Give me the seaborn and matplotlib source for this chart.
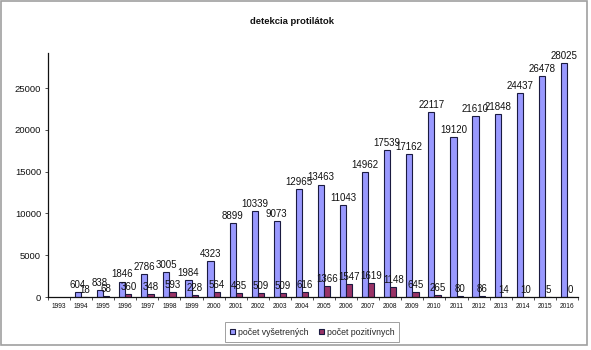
import numpy as np
import pandas as pd
import matplotlib
matplotlib.use("Agg")
import matplotlib.pyplot as plt
from matplotlib.patches import Rectangle
import seaborn as sns

years = [str(y) for y in range(1993, 2017)]
vysetrenych = [None, 604, 838, 1846, 2786, 3005, 1984, 4323, 8899, 10339, 9073,
               12965, 13463, 11043, 14962, 17539, 17162, 22117, 19120, 21610,
               21848, 24437, 26478, 28025]
pozitivnych = [None, 18, 68, 360, 348, 593, 228, 564, 485, 509, 509, 616, 1366,
               1547, 1619, 1148, 645, 265, 80, 86, 14, 10, 5, 0]
series_names = ["počet vyšetrených", "počet pozitívnych"]
y_ticks = [0, 5000, 10000, 15000, 20000, 25000]

df = pd.DataFrame({
    "rok": years * 2,
    "hodnota": [np.nan if v is None else v for v in vysetrenych + pozitivnych],
    "ukazovateľ": [series_names[0]] * len(years) + [series_names[1]] * len(years),
})

sns.set_style("white")
plt.rcParams["font.family"] = ["Liberation Sans", "DejaVu Sans"]

fig = plt.figure(figsize=(5.91, 3.5), dpi=100)
ax = fig.add_axes([0.0812, 0.1514, 0.8968, 0.6972])

palette = {series_names[0]: "#9999FF", series_names[1]: "#993366"}
sns.barplot(data=df, x="rok", y="hodnota", hue="ukazovateľ", order=years,
            hue_order=series_names, palette=palette, width=0.56, saturation=1,
            edgecolor="#1a1a40", linewidth=0.8, ax=ax, legend=True)

# value labels above every bar; years without a value stay unlabeled
for cont in ax.containers:
    labels = []
    for p in cont.patches:
        h = p.get_height()
        labels.append("" if not np.isfinite(h) or (h == 0 and p.get_x() < 0) else f"{h:.0f}")
    ax.bar_label(cont, labels=labels, padding=1.5, fontsize=7, color="#111111")

ax.set_ylim(0, 29200)
ax.set_xlim(-0.5, len(years) - 0.5)
ax.set_yticks(y_ticks)
ax.set_yticklabels([str(t) for t in y_ticks], fontsize=6.8, color="#111111")
ax.tick_params(axis="y", length=2, width=0.6, pad=3, left=True, color="#333333")
ax.tick_params(axis="x", labelsize=4.8, length=0, pad=4, labelcolor="#111111")
ax.set_xticks(np.arange(len(years) + 1) - 0.5, minor=True)
ax.tick_params(axis="x", which="minor", length=2, width=0.6, bottom=True, color="#333333")
ax.set_xlabel("")
ax.set_ylabel("")
for side in ["top", "right"]:
    ax.spines[side].set_visible(False)
for side in ["left", "bottom"]:
    ax.spines[side].set_color("#111111")
    ax.spines[side].set_linewidth(0.9)

ax.set_title("detekcia protilátok", fontsize=6.8, fontweight="bold",
             color="#111111", x=0.46, pad=21)

handles, lbls = ax.get_legend_handles_labels()
ax.get_legend().remove()
leg = fig.legend(handles, lbls, loc="center", bbox_to_anchor=(0.528, 0.051),
                 ncol=2, fontsize=6.3, frameon=True, fancybox=False,
                 handlelength=0.6, handleheight=0.6, handletextpad=0.3,
                 columnspacing=1.2, borderpad=0.6)
leg.get_frame().set_edgecolor("#888888")
leg.get_frame().set_linewidth(0.7)

# thin frame around the whole chart
fig.add_artist(Rectangle((0.002, 0.0143), 0.991, 0.983, transform=fig.transFigure,
                         fill=False, edgecolor="#a0a0a0", linewidth=1.2))

fig.savefig("out.png", dpi=100)
